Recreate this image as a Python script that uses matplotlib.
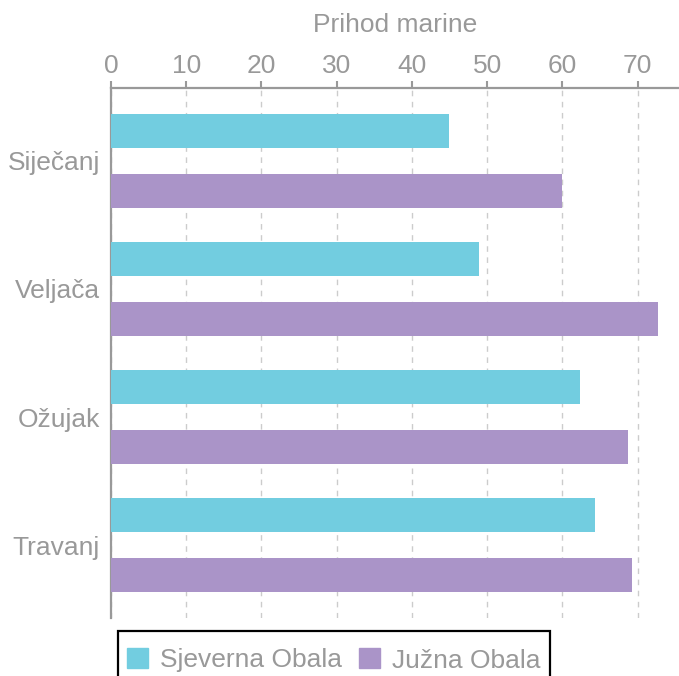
import matplotlib.pyplot as plt
import numpy as np
from matplotlib.patches import Patch, Rectangle

plt.rcParams['font.family'] = ['Liberation Sans', 'DejaVu Sans']

months = ['Siječanj', 'Veljača', 'Ožujak', 'Travanj']
sjever = [44.9, 48.9, 62.3, 64.4]
jug = [59.9, 72.7, 68.7, 69.3]
series_names = ['Sjeverna Obala', 'Južna Obala']
x_ticks = [0, 10, 20, 30, 40, 50, 60, 70]

c_north = '#72CDE0'
c_south = '#AA94C8'
gray = '#999999'
fs = 19

W, H = 679, 676
fig = plt.figure(figsize=(W / 100, H / 100), dpi=100)
ax = fig.add_axes([111 / W, 1 - 618 / H, 1 - 111 / W, (618 - 88) / H])

y = np.arange(len(months))
off = 0.234
h = 0.266
ax.barh(y - off, sjever, height=h, color=c_north, zorder=3)
ax.barh(y + off, jug, height=h, color=c_south, zorder=3)

ax.set_xlim(0, 75.5)
ax.set_ylim(3.57, -0.57)
ax.set_yticks(y)
ax.set_yticklabels(months)
ax.set_xticks(x_ticks)

ax.xaxis.tick_top()
ax.xaxis.set_label_position('top')
ax.set_xlabel('Prihod marine', fontsize=fs, color=gray, labelpad=16)

ax.tick_params(axis='x', direction='out', length=5, width=1.5, color=gray,
               labelsize=fs, labelcolor=gray, pad=2)
ax.tick_params(axis='y', length=0, labelsize=fs, labelcolor=gray, pad=8)

for s in ['right', 'bottom']:
    ax.spines[s].set_visible(False)
for s in ['top', 'left']:
    ax.spines[s].set_color(gray)
    ax.spines[s].set_linewidth(1.6)

ax.grid(axis='x', linestyle=(0, (4, 4)), color='#cccccc', linewidth=1, zorder=0)
ax.set_axisbelow(True)

# legend box runs off the bottom edge like in the original
fig.patches.append(Rectangle((118 / W, 1 - 690 / H), (550 - 118) / W, (690 - 631) / H,
                             transform=fig.transFigure, fill=False,
                             edgecolor='black', linewidth=1.6))

handles = [Patch(color=c_north), Patch(color=c_south)]
leg = fig.legend(handles, series_names, loc='upper left',
                 bbox_to_anchor=(118 / W, 1 - 639 / H), ncol=2,
                 fontsize=fs, frameon=False, borderaxespad=0,
                 handlelength=0.8, handleheight=0.8, handletextpad=0.45,
                 columnspacing=0.65, borderpad=0.35)
for t in leg.get_texts():
    t.set_color(gray)

fig.savefig('out.png', dpi=100)
